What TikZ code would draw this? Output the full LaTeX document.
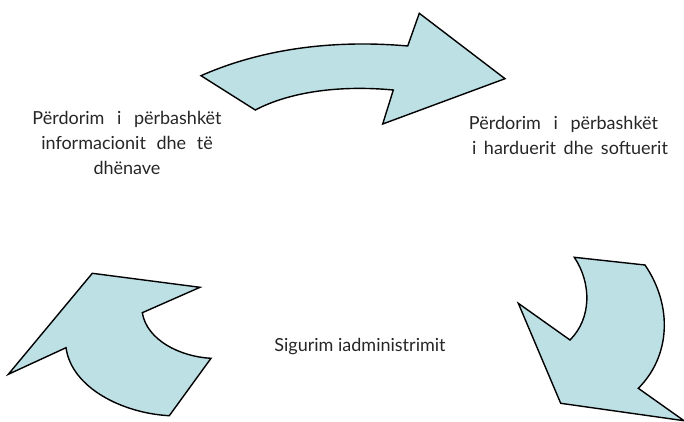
\documentclass[tikz,border=0pt]{standalone}
\usepackage{fontspec}
\setmainfont{Lato}
\tikzset{
  arrowshape/.style={draw=black,fill=arrowfill,line width=1.4pt,line join=miter},
  caption/.style={align=center,font=\fontsize{18}{25}\selectfont,text=black!85,inner sep=0pt,anchor=center}
}
\definecolor{arrowfill}{HTML}{BDE0E5}
\begin{document}
\begin{tikzpicture}[x=1pt,y=-1pt]
\useasboundingbox (0,0) rectangle (684,422);
% top arrow
\draw[arrowshape] (201,75.7) .. controls (266.7,46.7) and (340,40) .. (407.7,46)
  -- (419.3,13.3) -- (505,78.7) -- (382.7,124) -- (393.3,90)
  .. controls (340,85) and (290,91.7) .. (255.3,110) -- cycle;
% lower left arrow
\draw[arrowshape] (92.3,273.3) -- (200,287.3) -- (142.3,312.7)
  .. controls (146.7,340) and (180,356.7) .. (211,358.3)
  -- (169.3,415.7)
  .. controls (123.3,413.3) and (71.7,388.3) .. (66,347.7)
  -- (8.3,374.3) -- cycle;
% lower right arrow
\draw[arrowshape] (574.3,257.3) -- (645,265)
  .. controls (673.3,306.7) and (670,356.7) .. (638.3,388.3)
  -- (684,420.7) -- (560.7,403.3) -- (518.3,303.3) -- (570,340)
  .. controls (591.7,318.3) and (591.7,283.3) .. (574.3,257.3) -- cycle;
\node[caption] (sharedinfo) at (127,143) {Përdorim\hspace{8pt} i\hspace{8pt} përbashkët\\informacionit\hspace{6pt} dhe\hspace{6pt} të\hspace{0.3em}\\dhënave};
\node[caption] (sharedhw) at (567,135.5) {\hspace{-7pt}Përdorim\hspace{8pt} i\hspace{8pt} përbashkët\\\hspace{6pt}i\hspace{3pt} harduerit\hspace{3pt} dhe\hspace{3pt} softuerit};
\node[caption] (admin) at (360,347) {Sigurim iadministrimit};
\end{tikzpicture}
\end{document}
